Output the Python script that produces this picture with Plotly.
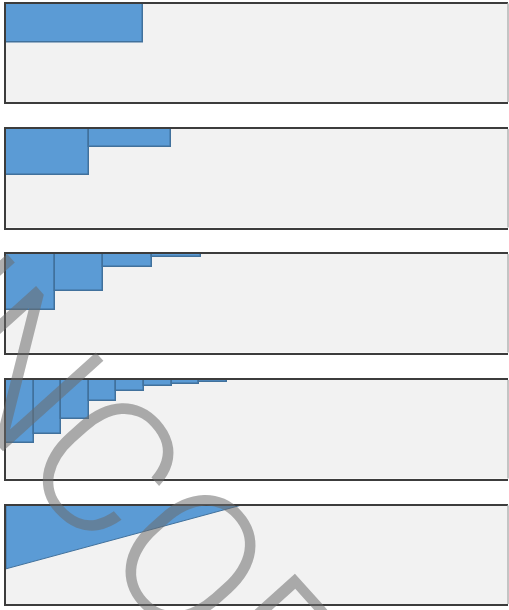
import plotly.graph_objects as go
from plotly.subplots import make_subplots

# ---- data (x in units of 0..100 across the panel, y as % of panel depth from the top) ----
p1_width = 27.3
p1_heights = [39.1]

p2_width = 16.45
p2_heights = [46.4, 18.7]

p3_width = 9.7
p3_heights = [56.5, 37.6, 13.2, 3.5]

p4_width = 5.5
p4_heights = [64.0, 54.8, 39.5, 21.3, 11.2, 6.1, 3.8, 2.0]

p5_x = [0, 0, 46.6, 0]
p5_y = [0, 64.3, 0, 0]

watermark = "UNCORRECTED PROOF"

BLUE = "#5b9bd5"
EDGE = "#41719c"

W, H = 509, 610
tops = [3.5, 129.0, 254.0, 380.0, 505.5]
ph = 98.5

fig = make_subplots(rows=5, cols=1)

panels = [(p1_width, p1_heights), (p2_width, p2_heights), (p3_width, p3_heights), (p4_width, p4_heights)]
for i, (w, hs) in enumerate(panels, start=1):
    xs = [w * (k + 0.5) for k in range(len(hs))]
    fig.add_trace(go.Bar(x=xs, y=hs, width=[w] * len(hs), base=0,
                         marker=dict(color=BLUE, line=dict(color=EDGE, width=1.5)),
                         showlegend=False, hoverinfo="skip"), row=i, col=1)

fig.add_trace(go.Scatter(x=p5_x, y=p5_y, mode="lines", fill="toself", fillcolor=BLUE,
                         line=dict(color=EDGE, width=1), showlegend=False, hoverinfo="skip"),
              row=5, col=1)

for i in range(5):
    t = tops[i]
    dom = [1 - (t + ph) / H, 1 - t / H]
    xa = "xaxis" if i == 0 else f"xaxis{i+1}"
    ya = "yaxis" if i == 0 else f"yaxis{i+1}"
    fig.layout[xa].update(range=[0, 100], showgrid=False, zeroline=False, showticklabels=False,
                          ticks="", showline=True, linecolor="#3c3c3c", linewidth=2, mirror=True,
                          domain=[0, 1])
    fig.layout[ya].update(range=[100, 0], domain=dom, showgrid=False, zeroline=False,
                          showticklabels=False, ticks="", showline=True, linecolor="#3c3c3c",
                          linewidth=2, mirror=False)
    fig.add_shape(type="line", xref="paper", yref="paper", x0=1, x1=1, y0=dom[0], y1=dom[1],
                  line=dict(color="#c4c4c4", width=2))

fig.add_annotation(text=watermark, xref="paper", yref="paper", x=1.0845, y=-0.577,
                   xanchor="center", yanchor="middle",
                   showarrow=False, textangle=48,
                   font=dict(family="Roboto", size=190, weight=300, color="rgba(108,108,108,0.54)"))

fig.update_layout(width=W, height=H, margin=dict(l=6, r=1, t=0, b=0),
                  plot_bgcolor="#f2f2f2", paper_bgcolor="white", bargap=0)

fig.write_html("out.html", config={"displayModeBar": False},
               post_script="document.body.style.margin='0px';")
